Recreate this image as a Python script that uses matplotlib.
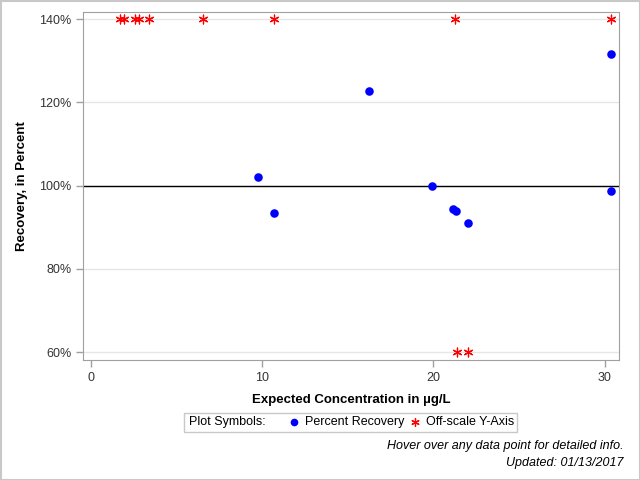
import matplotlib.pyplot as plt
from matplotlib.lines import Line2D
from matplotlib.patches import Rectangle
from matplotlib.ticker import FuncFormatter

plt.rcParams['font.family'] = ['Liberation Sans', 'DejaVu Sans']

# Percent recovery points
conc = [9.77, 10.72, 16.26, 19.94, 21.15, 21.33, 22.0, 30.35, 30.35]
recovery = [102.0, 93.4, 122.7, 99.9, 94.3, 93.9, 91.0, 131.6, 98.7]

# Off-scale points (drawn at axis limits)
conc_high = [1.70, 1.93, 2.57, 2.81, 3.41, 6.57, 10.72, 21.29, 30.35]
conc_low = [21.35, 22.0]
high_val = 140
low_val = 60

y_ticks = [60, 80, 100, 120, 140]
x_ticks = [0, 10, 20, 30]

fig = plt.figure(figsize=(6.4, 4.8), dpi=100)
ax = fig.add_axes([83/640, 1 - 360/480, 536/640, 348/480])

spine_col = '#a0a0a0'
for y in y_ticks:
    ax.axhline(y, color='#e6e6e6', lw=1, zorder=0)
ax.axhline(100, color='black', lw=1, zorder=1)

ax.scatter(conc, recovery, s=38, color='#0000ff', zorder=3, linewidths=0)
star = (6, 2, 0)
ax.scatter(conc_high, [high_val] * len(conc_high), marker=star, s=40,
           color='#ff0000', linewidths=0.9, zorder=3)
ax.scatter(conc_low, [low_val] * len(conc_low), marker=star, s=40,
           color='#ff0000', linewidths=0.9, zorder=3)

ax.set_xlim(-0.44, 30.83)
ax.set_ylim(58.1, 141.7)
ax.set_xticks(x_ticks)
ax.set_yticks(y_ticks)
ax.yaxis.set_major_formatter(FuncFormatter(lambda v, p: '%d%%' % v))
for s in ax.spines.values():
    s.set_color(spine_col)
ax.tick_params(colors='#333333', labelsize=9, length=5, width=1)
ax.tick_params(axis='both', color=spine_col)

ax.set_xlabel('Expected Concentration in \u00b5g/L', fontsize=9.5,
              fontweight='bold', labelpad=7)
ax.set_ylabel('Recovery, in Percent', fontsize=9.5, fontweight='bold',
              labelpad=8)

# legend box
fig.add_artist(Rectangle((184/640, 1 - 432/480), 333/640, 19/480,
                         transform=fig.transFigure, fill=False,
                         edgecolor='#c8c8c8', lw=1))
ty = 1 - 422/480
fig.text(189/640, ty, 'Plot Symbols:', fontsize=9, va='center')
fig.add_artist(Line2D([294/640], [ty], marker='o', markersize=5.5,
                      color='#0000ff', markeredgewidth=0,
                      transform=fig.transFigure))
fig.text(305/640, ty, 'Percent Recovery', fontsize=9, va='center')
fig.add_artist(Line2D([415/640], [ty], marker=star, markersize=6,
                      color='#ff0000', markeredgewidth=0.9,
                      transform=fig.transFigure))
fig.text(426/640, ty, 'Off-scale Y-Axis', fontsize=9, va='center')

# footnotes
fig.text(624/640, 1 - 446/480, 'Hover over any data point for detailed info.',
         fontsize=9, style='italic', ha='right', va='center')
fig.text(624/640, 1 - 463/480, 'Updated: 01/13/2017',
         fontsize=9, style='italic', ha='right', va='center')

# outer border
fig.add_artist(Rectangle((0.5/640, 0.5/480), 639/640, 479/480,
                         transform=fig.transFigure, fill=False,
                         edgecolor='#c8c8c8', lw=1.5))

fig.savefig('out.png', dpi=100)
